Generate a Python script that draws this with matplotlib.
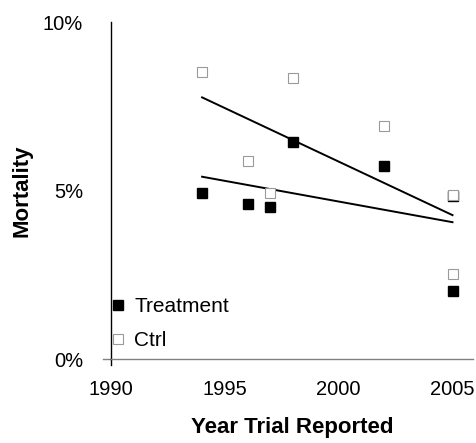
import numpy as np
import matplotlib
matplotlib.use("Agg")
import matplotlib.pyplot as plt
from matplotlib.ticker import PercentFormatter

plt.rcParams['font.family'] = ['Liberation Sans', 'DejaVu Sans']

years = [1994, 1996, 1997, 1998, 2002, 2005, 2005]
treatment = [4.92, 4.60, 4.52, 6.45, 5.73, 2.03, 4.83]
ctrl = [8.53, 5.88, 4.92, 8.33, 6.92, 2.51, 4.87]
x_ticks = [1990, 1995, 2000, 2005]
y_ticks = [0, 5, 10]

fig = plt.figure(figsize=(4.77, 4.43), dpi=100)
ax = fig.add_axes([0.2327, 0.1896, 0.7589, 0.7607])

ax.plot(years, treatment, linestyle='none', marker='s', markersize=7.2,
        markerfacecolor='black', markeredgecolor='black', label='Treatment', zorder=3)
ax.plot(years, ctrl, linestyle='none', marker='s', markersize=7.2,
        markerfacecolor='white', markeredgecolor='#9a9a9a', markeredgewidth=0.8,
        label='Ctrl', zorder=4)

xs = np.array([min(years), max(years)])
for series in (treatment, ctrl):
    k, b = np.polyfit(years, series, 1)
    ax.plot(xs, k * xs + b, color='black', linewidth=1.4, zorder=2)

ax.set_xlim(1990, 2005.9)
ax.set_ylim(0, 10)
ax.set_xticks(x_ticks)
ax.set_yticks(y_ticks)
ax.yaxis.set_major_formatter(PercentFormatter(decimals=0))
ax.tick_params(length=0, labelsize=14.5)
ax.tick_params(axis='x', pad=15)
ax.tick_params(axis='y', pad=20)

for s in ('top', 'right'):
    ax.spines[s].set_visible(False)
ax.spines['left'].set_color('black')
ax.spines['left'].set_linewidth(1.0)
ax.spines['bottom'].set_color('#808080')
ax.spines['bottom'].set_linewidth(1.0)
# origin cross ticks
ax.plot([-0.022, 0], [0, 0], transform=ax.transAxes, color='#808080', lw=1.0, clip_on=False)
ax.plot([0, 0], [-0.018, 0], transform=ax.transAxes, color='black', lw=1.0, clip_on=False)

xl = ax.set_xlabel('Year Trial Reported', fontsize=16, fontweight='bold', va='center')
yl = ax.set_ylabel('Mortality', fontsize=16, fontweight='bold', va='center')
ax.xaxis.set_label_coords(0.50, -0.202)
ax.yaxis.set_label_coords(-0.246, 0.50)

leg = ax.legend(loc='lower left', bbox_to_anchor=(-0.039, -0.016), frameon=False,
                fontsize=15, handlelength=0.6, handletextpad=0.5, labelspacing=0.7,
                borderaxespad=0.3)

fig.savefig('out.png', dpi=100)
